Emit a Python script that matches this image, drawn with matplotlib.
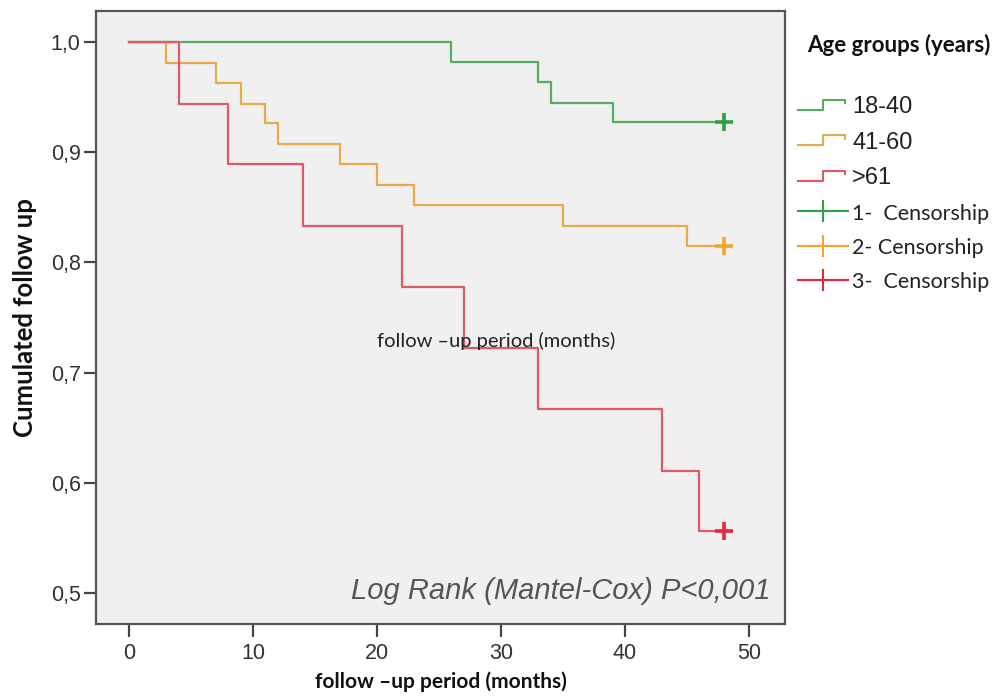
import matplotlib
matplotlib.use("Agg")
import matplotlib.pyplot as plt
from matplotlib.lines import Line2D
from matplotlib.legend_handler import HandlerBase


# Kaplan-Meier steps per age group (months, cumulative proportion)
months_18_40 = [0, 26, 33, 34, 39, 48]
surv_18_40 = [1.0, 0.982, 0.964, 0.945, 0.927, 0.927]

months_41_60 = [0, 3, 7, 9, 11, 12, 17, 20, 23, 35, 45, 48]
surv_41_60 = [1.0, 0.981, 0.963, 0.944, 0.926, 0.907, 0.889, 0.870, 0.852, 0.833, 0.815, 0.815]

months_61 = [0, 4, 8, 14, 22, 27, 33, 43, 46, 48]
surv_61 = [1.0, 0.944, 0.889, 0.833, 0.778, 0.722, 0.667, 0.611, 0.556, 0.556]

group_labels = ["18-40", "41-60", ">61"]
censor_labels = ["1-  Censorship", "2- Censorship", "3-  Censorship"]
x_ticks = [0, 10, 20, 30, 40, 50]
y_ticks = [0.5, 0.6, 0.7, 0.8, 0.9, 1.0]
y_ticklabels = ["0,5", "0,6", "0,7", "0,8", "0,9", "1,0"]

line_colors = ["#55ad62", "#ebaa4a", "#e25865"]
censor_colors = ["#2fa044", "#f3a52a", "#e6283c"]

SANS = ["Liberation Sans", "DejaVu Sans"]
CAL = ["Lato", "DejaVu Sans"]


class StepHandler(HandlerBase):
    # little step glyph, like the SPSS survival legend
    def create_artists(self, legend, orig_handle, xdescent, ydescent,
                       width, height, fontsize, trans):
        x0 = -xdescent
        lo = -ydescent + height * 0.2
        hi = -ydescent + height * 0.8
        xs = [x0, x0 + width * 0.5, x0 + width * 0.5, x0 + width * 0.95, x0 + width * 0.95]
        ys = [lo, lo, hi, hi, hi - height * 0.2]
        ln = Line2D(xs, ys, color=orig_handle.get_color(), lw=1.5, transform=trans)
        return [ln]


fig = plt.figure(figsize=(10.06, 6.96), dpi=100)
ax = fig.add_axes([96 / 1006, 72 / 696, 689 / 1006, 613 / 696])
ax.set_facecolor("#f0f0f0")

series = [(months_18_40, surv_18_40), (months_41_60, surv_41_60), (months_61, surv_61)]
step_handles = []
cens_handles = []
for (t, s), lc, cc, lab, clab in zip(series, line_colors, censor_colors, group_labels, censor_labels):
    h, = ax.step(t, s, where="post", color=lc, lw=1.6, label=lab)
    step_handles.append(h)
    ax.plot([t[-1]], [s[-1]], marker="+", ms=13, mew=2.6, color=cc, ls="none")
    cens_handles.append(Line2D([], [], color=cc, lw=1.5, marker="+", ms=16, mew=1.5, label=clab))

ax.set_xlim(-2.66, 52.9)
ax.set_ylim(0.472, 1.028)
ax.set_xticks(x_ticks)
ax.set_xticklabels([str(v) for v in x_ticks], fontfamily=SANS, fontsize=15.5, color="#333")
ax.set_yticks(y_ticks)
ax.set_yticklabels(y_ticklabels, fontfamily=SANS, fontsize=15.5, color="#333")
ax.tick_params(axis="both", direction="out", length=9, width=1.6, color="#444")
ax.tick_params(axis="x", pad=5)
ax.tick_params(axis="y", pad=2)
for sp in ax.spines.values():
    sp.set_color("#555")
    sp.set_linewidth(1.6)

ax.set_xlabel("follow \u2013up period (months)", fontfamily=CAL, fontweight="bold",
              fontsize=15, color="#111", labelpad=5)
ax.set_ylabel("Cumulated follow up", fontfamily=CAL, fontweight="bold",
              fontsize=18.5, color="#111", labelpad=10)

ax.text(20.0, 0.729, "follow \u2013up period (months)", fontfamily=CAL, fontsize=14.5,
        color="#222", ha="left", va="center")
ax.text(51.7, 0.502, "Log Rank (Mantel-Cox) P<0,001", fontfamily=SANS, style="italic",
        fontsize=21, color="#555", ha="right", va="center")

fig.text(807 / 1006, 1 - 45 / 696, "Age groups (years)", fontfamily=CAL, fontweight="bold",
         fontsize=16, color="#111", ha="left", va="center")

handles = step_handles + cens_handles
leg = fig.legend(handles=handles, labels=group_labels + censor_labels,
                 loc="upper left", bbox_to_anchor=(798 / 1006, 1 - 96 / 696),
                 frameon=False, handlelength=2.1, handletextpad=0.2,
                 labelspacing=0.58, borderaxespad=0, borderpad=0,
                 prop={"family": SANS, "size": 17},
                 handler_map={h: StepHandler() for h in step_handles})
for txt in leg.get_texts()[3:]:
    txt.set_fontfamily(CAL)
    txt.set_fontsize(15.5)
for txt in leg.get_texts():
    txt.set_color("#222")

fig.savefig("out.png", dpi=100)
